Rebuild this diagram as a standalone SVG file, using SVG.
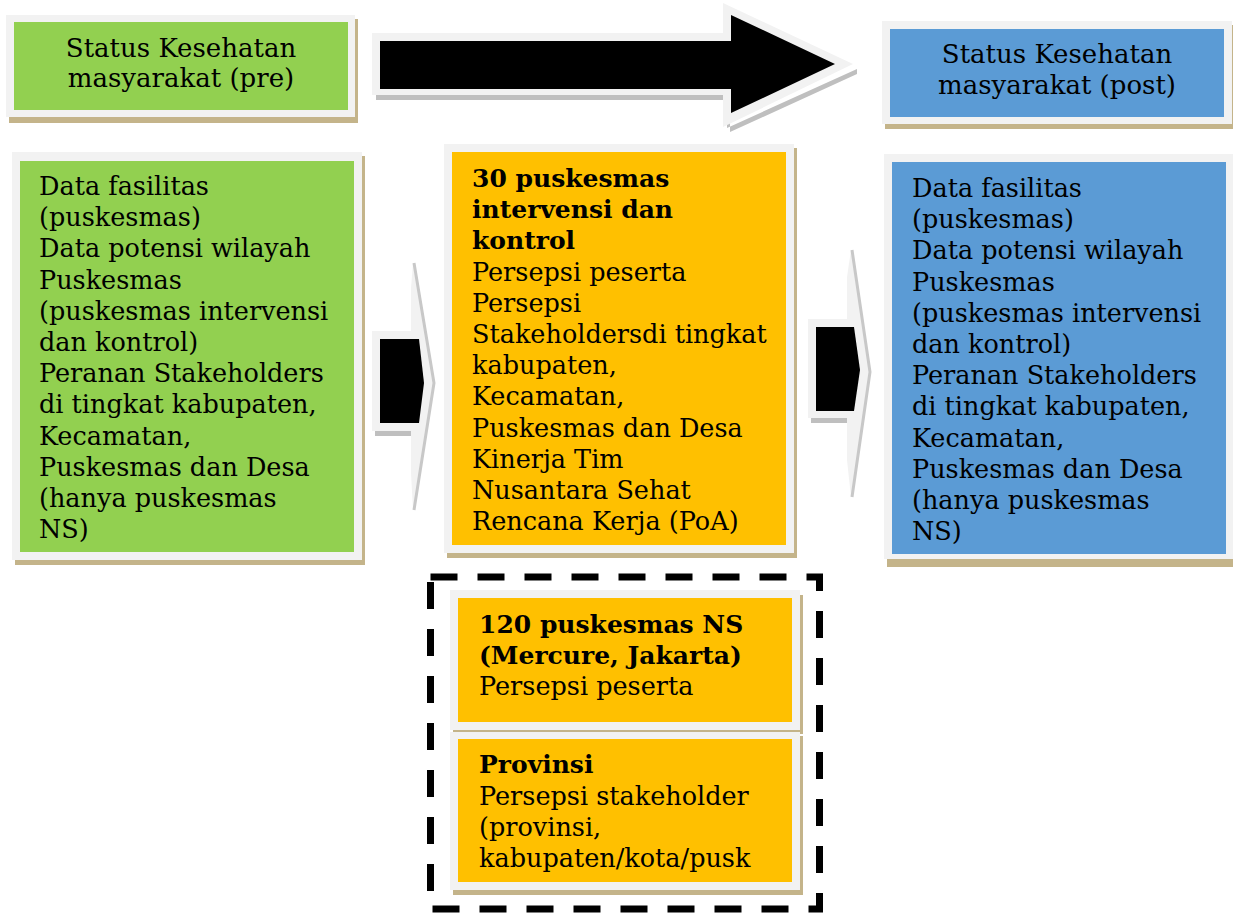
<svg xmlns="http://www.w3.org/2000/svg" width="1233" height="913" viewBox="0 0 1233 913">
<style>
.frame{fill:#f2f2f2}
.shadow{fill:#c4b48a}
.gshadow{fill:#bfbfbf}
.green{fill:#92d050}
.blue{fill:#5b9bd5}
.orange{fill:#ffc000}
text{font-family:"DejaVu Serif","Liberation Serif",serif;fill:#000}
.t{font-size:25.5px}
.h{font-size:26px}
.b{font-weight:bold;font-size:25px}
</style>
<rect width="1233" height="913" fill="#ffffff"/>

<g id="connectors">
  <g id="arrow-top">
    <polygon class="gshadow" points="376,95 727,95 727,128 857,69 857,74 730,132 730,100 376,100"/>
    <polygon class="frame" points="372,33 723,33 723,3 853,64 723,127 723,95 372,95"/>
    <polygon fill="#000" points="380,41 731,41 731,15 835,64 731,113 731,89 380,89"/>
  </g>
  <g id="arrow-left">
    <rect class="gshadow" x="375" y="431" width="36" height="5"/>
    <polygon class="frame" points="372,331 411,331 411,288 413,263 434,383 413,510 411,473 411,431 372,431"/>
    <polyline points="414,263 434,383 414,510" fill="none" stroke="#c8c8c8" stroke-width="3"/>
    <polygon fill="#000" points="380,339 419,339 424,383 419,423 380,423"/>
  </g>
  <g id="arrow-right">
    <rect class="gshadow" x="811" y="418" width="36" height="5"/>
    <polygon class="frame" points="808,319 847,319 847,277 851,250 870,372 851,497 847,460 847,418 808,418"/>
    <polyline points="852,250 870,372 852,497" fill="none" stroke="#c8c8c8" stroke-width="3"/>
    <polygon fill="#000" points="816,327 854,327 860,370 854,411 816,411"/>
  </g>
</g>

<g id="node-pre">
  <rect class="shadow" x="9" y="19" width="349" height="104"/>
  <rect class="frame" x="6" y="15" width="349" height="102"/>
  <rect class="green" x="14" y="22" width="334" height="88"/>
  <text class="h" x="181" y="57" text-anchor="middle">Status Kesehatan</text>
  <text class="h" x="181" y="87" text-anchor="middle">masyarakat (pre)</text>
</g>

<g id="node-post">
  <rect class="shadow" x="885" y="25" width="348" height="104"/>
  <rect class="frame" x="882" y="21" width="350" height="103"/>
  <rect class="blue" x="890" y="29" width="334" height="88"/>
  <text class="h" x="1057" y="63" text-anchor="middle">Status Kesehatan</text>
  <text class="h" x="1057" y="94" text-anchor="middle">masyarakat (post)</text>
</g>

<g id="node-left">
  <rect class="shadow" x="15" y="156" width="350" height="409"/>
  <rect class="frame" x="12" y="152" width="350" height="408"/>
  <rect class="green" x="20" y="161" width="334" height="391"/>
  <text class="t" x="39" y="195">
    <tspan x="39" y="195">Data fasilitas</tspan>
    <tspan x="39" y="226.2">(puskesmas)</tspan>
    <tspan x="39" y="257.4">Data potensi wilayah</tspan>
    <tspan x="39" y="288.6">Puskesmas</tspan>
    <tspan x="39" y="319.8">(puskesmas intervensi</tspan>
    <tspan x="39" y="351">dan kontrol)</tspan>
    <tspan x="39" y="382.2">Peranan Stakeholders</tspan>
    <tspan x="39" y="413.4">di tingkat kabupaten,</tspan>
    <tspan x="39" y="444.6">Kecamatan,</tspan>
    <tspan x="39" y="475.8">Puskesmas dan Desa</tspan>
    <tspan x="39" y="507">(hanya puskesmas</tspan>
    <tspan x="39" y="538.2">NS)</tspan>
  </text>
</g>

<g id="node-middle">
  <rect class="shadow" x="447" y="148" width="350" height="410"/>
  <rect class="frame" x="444" y="144" width="350" height="409"/>
  <rect class="orange" x="452" y="152" width="334" height="393"/>
  <text class="b" x="472" y="187">
    <tspan x="472" y="187">30 puskesmas</tspan>
    <tspan x="472" y="218.2">intervensi dan</tspan>
    <tspan x="472" y="249.4">kontrol</tspan>
  </text>
  <text class="t" x="472" y="280.6">
    <tspan x="472" y="280.6">Persepsi peserta</tspan>
    <tspan x="472" y="311.8">Persepsi</tspan>
    <tspan x="472" y="343">Stakeholdersdi tingkat</tspan>
    <tspan x="472" y="374.2">kabupaten,</tspan>
    <tspan x="472" y="405.4">Kecamatan,</tspan>
    <tspan x="472" y="436.6">Puskesmas dan Desa</tspan>
    <tspan x="472" y="467.8">Kinerja Tim</tspan>
    <tspan x="472" y="499">Nusantara Sehat</tspan>
    <tspan x="472" y="530.2">Rencana Kerja (PoA)</tspan>
  </text>
</g>

<g id="node-right">
  <rect class="shadow" x="887" y="158" width="346" height="409"/>
  <rect class="frame" x="884" y="154" width="349" height="405"/>
  <rect class="blue" x="892" y="162" width="334" height="392"/>
  <text class="t" x="912" y="197">
    <tspan x="912" y="197">Data fasilitas</tspan>
    <tspan x="912" y="228.2">(puskesmas)</tspan>
    <tspan x="912" y="259.4">Data potensi wilayah</tspan>
    <tspan x="912" y="290.6">Puskesmas</tspan>
    <tspan x="912" y="321.8">(puskesmas intervensi</tspan>
    <tspan x="912" y="353">dan kontrol)</tspan>
    <tspan x="912" y="384.2">Peranan Stakeholders</tspan>
    <tspan x="912" y="415.4">di tingkat kabupaten,</tspan>
    <tspan x="912" y="446.6">Kecamatan,</tspan>
    <tspan x="912" y="477.8">Puskesmas dan Desa</tspan>
    <tspan x="912" y="509">(hanya puskesmas</tspan>
    <tspan x="912" y="540.2">NS)</tspan>
  </text>
</g>

<g id="group-dashed">
  <rect x="430.5" y="577" width="389" height="332" fill="none" stroke="#000" stroke-width="7" stroke-dasharray="27 20"/>
</g>

<g id="node-ns">
  <rect class="shadow" x="453" y="595" width="350" height="139"/>
  <rect class="frame" x="450" y="590" width="350" height="140"/>
  <rect class="orange" x="458" y="598" width="334" height="124"/>
  <text class="b" x="479" y="633">
    <tspan x="479" y="633">120 puskesmas NS</tspan>
    <tspan x="479" y="664">(Mercure, Jakarta)</tspan>
  </text>
  <text class="t" x="479" y="695">Persepsi peserta</text>
</g>

<g id="node-provinsi">
  <rect class="shadow" x="453" y="736" width="350" height="159"/>
  <rect class="frame" x="450" y="732" width="350" height="158"/>
  <rect class="orange" x="458" y="739" width="334" height="143"/>
  <text class="b" x="479" y="773">Provinsi</text>
  <text class="t" x="479" y="805">
    <tspan x="479" y="805">Persepsi stakeholder</tspan>
    <tspan x="479" y="836">(provinsi,</tspan>
    <tspan x="479" y="867">kabupaten/kota/pusk</tspan>
  </text>
</g>
</svg>
